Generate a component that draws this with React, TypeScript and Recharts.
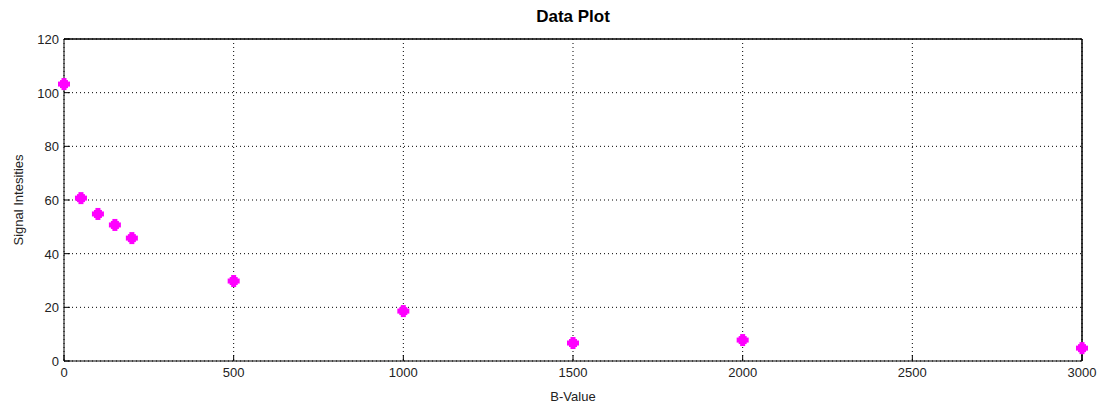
import { ScatterChart, Scatter, XAxis, YAxis, CartesianGrid, ReferenceLine } from "recharts";

const bValues = [0, 50, 100, 150, 200, 500, 1000, 1500, 2000, 3000];
const intensities = [103.2, 60.7, 54.8, 50.7, 45.8, 29.8, 18.6, 6.7, 7.8, 4.8];
const xTicks = [0, 500, 1000, 1500, 2000, 2500, 3000];
const yTicks = [0, 20, 40, 60, 80, 100, 120];

const data = bValues.map((b, i) => ({ b, s: intensities[i] }));

const FONT = "'Liberation Sans', Arial, sans-serif";

const Marker = (props: any) => {
  const { cx, cy } = props;
  return (
    <g fill="#ff00ff">
      <rect x={cx - 6} y={cy - 2.5} width={12} height={5} />
      <rect x={cx - 2.5} y={cy - 6} width={5} height={12} />
      <rect x={cx - 4} y={cy - 4} width={8} height={8} />
    </g>
  );
};

const BottomTick = (props: any) => {
  const { x, y, payload } = props;
  return (
    <g>
      <line x1={x} y1={y} x2={x} y2={y - 6} stroke="#000" />
      <text x={x} y={y + 16} textAnchor="middle" fontSize={13} fill="#222" fontFamily={FONT}>
        {payload.value}
      </text>
    </g>
  );
};

const TopTick = (props: any) => {
  const { x, y } = props;
  return <line x1={x} y1={y} x2={x} y2={y + 6} stroke="#000" />;
};

const LeftTick = (props: any) => {
  const { x, y, payload } = props;
  return (
    <g>
      <line x1={x} y1={y} x2={x + 6} y2={y} stroke="#000" />
      <text x={x - 5} y={y + 5} textAnchor="end" fontSize={13} fill="#222" fontFamily={FONT}>
        {payload.value}
      </text>
    </g>
  );
};

const RightTick = (props: any) => {
  const { x, y } = props;
  return <line x1={x} y1={y} x2={x - 6} y2={y} stroke="#000" />;
};

export default function App() {
  return (
    <div style={{ position: "absolute", left: 0, top: 0, width: 1104, height: 407, background: "#fff" }}>
      <div
        style={{
          position: "absolute",
          left: 0,
          top: 7,
          width: 1146,
          textAlign: "center",
          fontFamily: FONT,
          fontWeight: "bold",
          fontSize: 17,
          color: "#000",
        }}
      >
        Data Plot
      </div>
      <div
        style={{
          position: "absolute",
          left: 18,
          top: 200,
          transform: "translate(-50%, -50%) rotate(-90deg)",
          fontFamily: FONT,
          fontSize: 13,
          color: "#222",
          whiteSpace: "nowrap",
        }}
      >
        Signal Intesities
      </div>
      <div
        style={{
          position: "absolute",
          left: 0,
          top: 389,
          width: 1146,
          textAlign: "center",
          fontFamily: FONT,
          fontSize: 13,
          color: "#222",
        }}
      >
        B-Value
      </div>
      <ScatterChart
        width={1104}
        height={407}
        margin={{ top: 38, right: 21, bottom: 16, left: 24 }}
        style={{ position: "absolute", left: 0, top: 0 }}
      >
        <CartesianGrid xAxisId="bottom" yAxisId="left" stroke="#000" strokeDasharray="1 3" />
        <XAxis
          xAxisId="bottom"
          type="number"
          dataKey="b"
          domain={[0, 3000]}
          ticks={xTicks}
          height={30}
          tickSize={0}
          tickMargin={0}
          tickLine={false}
          tick={<BottomTick />}
          stroke="#000"
          interval={0}
        />
        <XAxis
          xAxisId="top"
          orientation="top"
          type="number"
          dataKey="b"
          domain={[0, 3000]}
          ticks={xTicks}
          height={1}
          tickSize={0}
          tickMargin={0}
          tickLine={false}
          tick={<TopTick />}
          stroke="#000"
          interval={0}
        />
        <YAxis
          yAxisId="left"
          type="number"
          dataKey="s"
          domain={[0, 120]}
          ticks={yTicks}
          width={40}
          tickSize={0}
          tickMargin={0}
          tickLine={false}
          tick={<LeftTick />}
          stroke="#000"
          interval={0}
        />
        <YAxis
          yAxisId="right"
          orientation="right"
          type="number"
          dataKey="s"
          domain={[0, 120]}
          ticks={yTicks}
          width={1}
          tickSize={0}
          tickMargin={0}
          tickLine={false}
          tick={<RightTick />}
          stroke="#000"
          interval={0}
        />
        <ReferenceLine xAxisId="bottom" yAxisId="left" y={120} stroke="#000" />
        <ReferenceLine xAxisId="bottom" yAxisId="left" x={3000} stroke="#000" />
        <Scatter
          data={data}
          xAxisId="bottom"
          yAxisId="left"
          shape={<Marker />}
          isAnimationActive={false}
        />
      </ScatterChart>
    </div>
  );
}
